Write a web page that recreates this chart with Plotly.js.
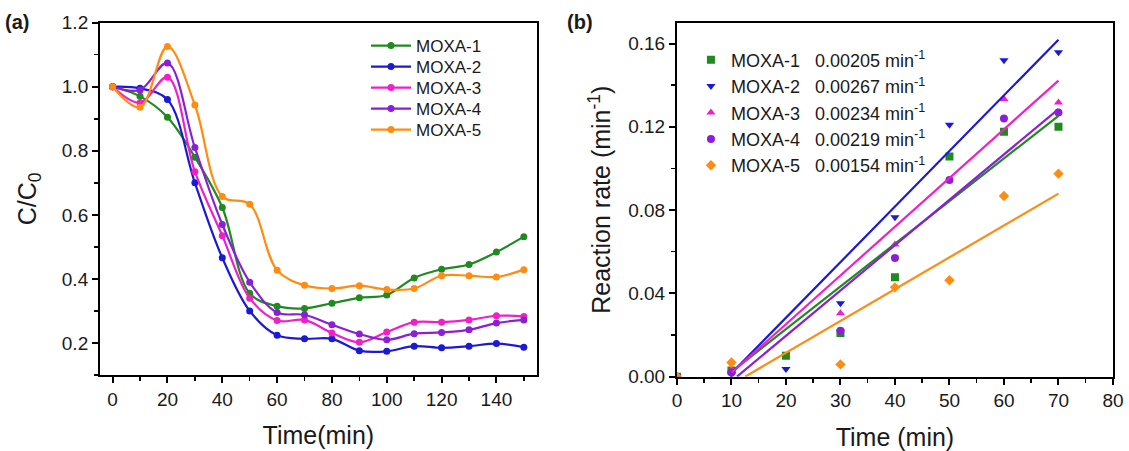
<!DOCTYPE html>
<html>
<head>
<meta charset="utf-8">
<script src="https://cdn.plot.ly/plotly-3.0.1.min.js"></script>
<style>html,body{margin:0;padding:0;background:#fff;}#chart{width:1129px;height:451px;}</style>
</head>
<body>
<div id="chart"></div>
<script>
// ---- Panel (a) data ----
const timeA = [0, 10, 20, 30, 40, 50, 60, 70, 80, 90, 100, 110, 120, 130, 140, 150];
const moxa1A = [1.0, 0.97, 0.905, 0.78, 0.623, 0.355, 0.315, 0.308, 0.324, 0.341, 0.35, 0.403, 0.43, 0.445, 0.484, 0.532];
const moxa2A = [1.0, 0.995, 0.96, 0.70, 0.466, 0.30, 0.224, 0.213, 0.213, 0.176, 0.174, 0.19, 0.185, 0.19, 0.198, 0.187];
const moxa3A = [1.0, 0.95, 1.03, 0.735, 0.535, 0.34, 0.27, 0.272, 0.231, 0.202, 0.234, 0.265, 0.265, 0.272, 0.285, 0.283];
const moxa4A = [1.0, 0.99, 1.074, 0.81, 0.57, 0.39, 0.295, 0.288, 0.257, 0.228, 0.21, 0.229, 0.233, 0.241, 0.262, 0.272];
const moxa5A = [1.0, 0.936, 1.126, 0.943, 0.657, 0.633, 0.427, 0.38, 0.37, 0.379, 0.367, 0.37, 0.41, 0.41, 0.406, 0.429];

// ---- Panel (b) data ----
const timeB = [0, 10, 20, 30, 40, 50, 60, 70];
const moxa1B = [0, 0.003, 0.0101, 0.021, 0.0477, 0.1057, 0.1176, 0.120];
const moxa2B = [0, 0.0012, 0.0037, 0.0353, 0.0766, 0.121, 0.152, 0.1558];
const moxa3B = [0, 0.0035, null, 0.0305, 0.0635, null, 0.1334, 0.1317];
const moxa4B = [0, 0.002, null, 0.022, 0.057, 0.0945, 0.124, 0.1269];
const moxa5B = [0, 0.0068, null, 0.0059, 0.0429, 0.0463, 0.0868, 0.0975];

// fitted lines: start/end x and y
const fitX1 = [10, 70], fitY1 = [0.0023, 0.1253];
const fitX2 = [10, 70], fitY2 = [0.0016, 0.1618];
const fitX3 = [10, 70], fitY3 = [0.0018, 0.1422];
const fitX4 = [11, 70], fitY4 = [0.0, 0.1285];
const fitX5 = [12.5, 70], fitY5 = [0.0, 0.0879];

const names = ['MOXA-1', 'MOXA-2', 'MOXA-3', 'MOXA-4', 'MOXA-5'];
const rates = ['0.00205', '0.00267', '0.00234', '0.00219', '0.00154'];
const colors = ['#1f8a1f', '#1a1ad6', '#f01fc8', '#8a1fd6', '#ff8c10'];
const symbolsB = ['square', 'triangle-down', 'triangle-up', 'circle', 'diamond'];

const FONT = 'Arial, "Liberation Sans", sans-serif';
const TXT = '#1a1a1a';
const seriesA = [moxa1A, moxa2A, moxa3A, moxa4A, moxa5A];
const seriesB = [moxa1B, moxa2B, moxa3B, moxa4B, moxa5B];
const fitsX = [fitX1, fitX2, fitX3, fitX4, fitX5];
const fitsY = [fitY1, fitY2, fitY3, fitY4, fitY5];

// one legend per panel-(a) entry so row spacing can follow the reference
const legendIdsA = ['legend', 'legend3', 'legend4', 'legend5', 'legend6'];
const rowYA = [46, 67, 88, 109, 130];

const traces = [];
seriesA.forEach((ys, i) => {
  traces.push({
    x: timeA, y: ys, name: names[i], type: 'scatter', mode: 'lines+markers',
    line: {color: colors[i], width: 2.2, shape: 'spline', smoothing: 1.0},
    marker: {color: colors[i], size: 7, symbol: 'circle'},
    xaxis: 'x', yaxis: 'y', legend: legendIdsA[i]
  });
});
seriesB.forEach((ys, i) => {
  traces.push({
    x: timeB, y: ys, name: names[i] + '\u00a0\u00a0\u00a0' + rates[i] + ' min<sup>-1</sup>',
    type: 'scatter', mode: 'markers',
    marker: {color: colors[i], size: 8, symbol: symbolsB[i]},
    xaxis: 'x2', yaxis: 'y2', legend: 'legend2'
  });
});
fitsX.forEach((xs, i) => {
  traces.push({
    x: xs, y: fitsY[i], type: 'scatter', mode: 'lines', showlegend: false,
    line: {color: colors[i], width: 2.2},
    xaxis: 'x2', yaxis: 'y2'
  });
});

const axisCommon = {
  showline: true, linecolor: '#000', linewidth: 2, mirror: true,
  ticks: 'outside', ticklen: 6, tickwidth: 2, tickcolor: '#000',
  showgrid: false, zeroline: false,
  tickfont: {family: FONT, size: 19, color: TXT},
  minor: {ticks: 'outside', ticklen: 4, tickwidth: 1.5, tickcolor: '#000'}
};

const layout = {
  width: 1129, height: 451,
  margin: {l: 0, r: 0, t: 0, b: 0},
  paper_bgcolor: '#fff', plot_bgcolor: '#fff',
  font: {family: FONT, color: TXT},
  showlegend: true,
  xaxis: Object.assign({}, axisCommon, {
    domain: [0.0886, 0.4754], range: [-4.6, 154.7],
    tickvals: [0, 20, 40, 60, 80, 100, 120, 140],
    minor: Object.assign({}, axisCommon.minor, {tickvals: [10, 30, 50, 70, 90, 110, 130, 150]}),
    title: {text: 'Time(min)', font: {family: FONT, size: 25, color: TXT}, standoff: 18},
    anchor: 'y'
  }),
  yaxis: Object.assign({}, axisCommon, {
    domain: [0.1685, 0.9497], range: [0.1, 1.2],
    tickvals: [0.2, 0.4, 0.6, 0.8, 1.0, 1.2], ticktext: ['0.2', '0.4', '0.6', '0.8', '1.0', '1.2'],
    minor: Object.assign({}, axisCommon.minor, {tickvals: [0.1, 0.3, 0.5, 0.7, 0.9, 1.1]}),
    title: {text: 'C/C<sub>0</sub>', font: {family: FONT, size: 25, color: TXT}, standoff: 18},
    anchor: 'x'
  }),
  xaxis2: Object.assign({}, axisCommon, {
    domain: [0.5996, 0.9858], range: [0, 80],
    tickvals: [0, 10, 20, 30, 40, 50, 60, 70, 80],
    minor: Object.assign({}, axisCommon.minor, {tickvals: [5, 15, 25, 35, 45, 55, 65, 75]}),
    title: {text: 'Time (min)', font: {family: FONT, size: 25, color: TXT}, standoff: 18},
    anchor: 'y2'
  }),
  yaxis2: Object.assign({}, axisCommon, {
    domain: [0.1648, 0.9497], range: [0, 0.17],
    tickvals: [0, 0.04, 0.08, 0.12, 0.16], ticktext: ['0.00', '0.04', '0.08', '0.12', '0.16'],
    minor: Object.assign({}, axisCommon.minor, {tickvals: [0.02, 0.06, 0.10, 0.14]}),
    title: {text: 'Reaction rate (min<sup>-1</sup>)', font: {family: FONT, size: 25, color: TXT}, standoff: 10},
    anchor: 'x2'
  }),
  legend2: {
    x: 0.612, y: 0.908, xanchor: 'left', yanchor: 'top',
    bgcolor: 'rgba(0,0,0,0)', borderwidth: 0,
    font: {family: FONT, size: 18, color: TXT},
    itemwidth: 30, tracegroupgap: 0
  },
  annotations: [
    {text: '<b>(a)</b>', x: 0.003, y: 0.98, xref: 'paper', yref: 'paper', xanchor: 'left', yanchor: 'top', showarrow: false, font: {family: FONT, size: 20, color: TXT}},
    {text: '<b>(b)</b>', x: 0.5, y: 0.98, xref: 'paper', yref: 'paper', xanchor: 'left', yanchor: 'top', showarrow: false, font: {family: FONT, size: 20, color: TXT}}
  ]
};

legendIdsA.forEach((id, i) => {
  layout[id] = {
    x: 366 / 1129, y: 1 - rowYA[i] / 451, xanchor: 'left', yanchor: 'middle',
    bgcolor: 'rgba(0,0,0,0)', borderwidth: 0,
    font: {family: FONT, size: 17, color: TXT},
    itemwidth: 40, tracegroupgap: 0
  };
});

Plotly.newPlot('chart', traces, layout, {displayModeBar: false, staticPlot: true});
</script>
</body>
</html>
